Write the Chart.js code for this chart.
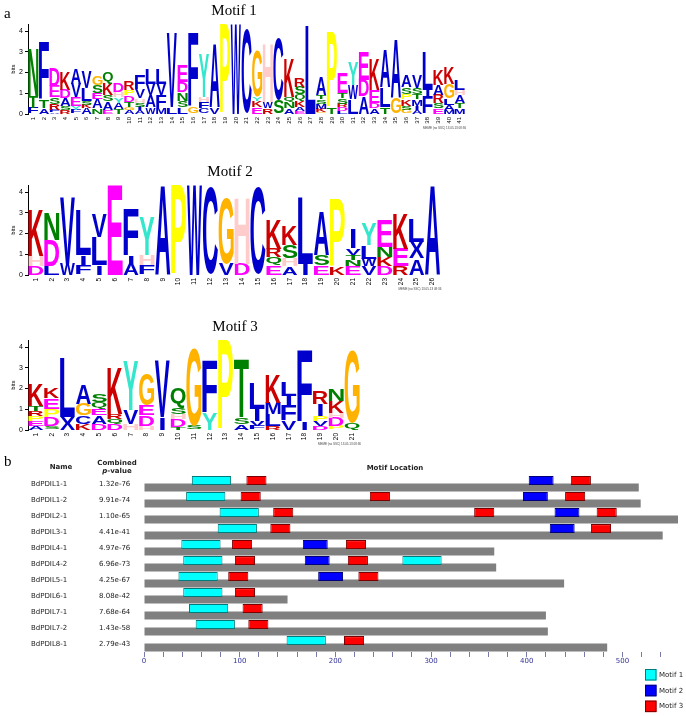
<!DOCTYPE html>
<html>
<head>
<meta charset="utf-8">
<script src="https://cdn.jsdelivr.net/npm/chart.js@4.4.1/dist/chart.umd.min.js"></script>
<style>
body { margin: 0; background: #fff; }
#fig { position: relative; width: 686px; height: 716px; overflow: hidden; background: #fff; }
#fig canvas { position: absolute; }
.panel { position: absolute; font: 15px "Liberation Serif", serif; color: #000; }
</style>
</head>
<body>
<div id="fig">
  <canvas id="logo1" width="470" height="130" style="left:0;top:0"></canvas>
  <canvas id="logo2" width="460" height="130" style="left:0;top:161px"></canvas>
  <canvas id="logo3" width="470" height="130" style="left:0;top:316px"></canvas>
  <canvas id="sites" width="686" height="266" style="left:0;top:450px"></canvas>
  <div class="panel" style="left:4px;top:5px">a</div>
  <div class="panel" style="left:4px;top:453px">b</div>
</div>
<script>
// letters of each logo column, bottom to top, and their heights in bits
const motif1Letters = ["FTN", "ATF", "AFRSED", "RSADK", "FYEVA", "AKSLV", "NAESG", "EASKQ", "TAYHD", "AGTDPR",
  "AISHVF", "WAVL", "MFVL", "LV", "LSNDE", "GF", "CFHY", "VA", "P", "W", "C", "EKYG", "RWH", "SC", "ANQK",
  "EAKQSR", "L", "GKMSTA", "TP", "LDRSTE", "LWY", "ADE", "ADEK", "TLA", "GA", "GSKPSA", "AIMTSV", "FIL",
  "ESRAK", "MALGK", "MTAHL"];
const motif1Heights = [[0.3, 0.55, 2.3], [0.27, 0.4, 2.73], [0.1, 0.1, 0.3, 0.3, 0.55, 0.85], [0.2, 0.2, 0.35, 0.4, 0.85],
  [0.2, 0.2, 0.4, 0.65, 0.72], [0.3, 0.15, 0.2, 0.6, 0.8], [0.27, 0.43, 0.3, 0.38, 0.44], [0.2, 0.4, 0.3, 0.55, 0.55],
  [0.25, 0.3, 0.25, 0.25, 0.4], [0.2, 0.15, 0.25, 0.3, 0.27, 0.45], [0.2, 0.15, 0.2, 0.2, 0.45, 0.7],
  [0.35, 0.55, 0.55, 0.75], [0.3, 0.6, 0.56, 0.72], [0.35, 3.55], [0.35, 0.3, 0.4, 0.5, 0.8], [0.35, 3.55],
  [0.27, 0.3, 0.25, 2.1], [0.35, 3.05], [4.32], [4.32], [4.1], [0.35, 0.3, 0.2, 2.2], [0.27, 0.33, 2.8], [0.68, 3.0],
  [0.27, 0.32, 0.24, 1.85], [0.15, 0.2, 0.3, 0.32, 0.35, 0.45], [4.3], [0.1, 0.15, 0.25, 0.2, 0.2, 0.9], [0.35, 3.6],
  [0.15, 0.2, 0.15, 0.25, 0.25, 1.0], [0.7, 0.7, 1.1], [0.85, 0.8, 1.35], [0.27, 0.25, 0.64, 1.5], [0.35, 0.95, 1.8],
  [0.75, 2.8], [0.2, 0.2, 0.3, 0.27, 0.34, 0.55], [0.2, 0.2, 0.3, 0.25, 0.3, 0.6], [0.85, 0.3, 1.85],
  [0.27, 0.25, 0.4, 0.48, 0.72], [0.2, 0.25, 0.3, 0.72, 0.8], [0.27, 0.25, 0.4, 0.25, 0.5]];

const motif2Letters = ["DHK", "LDN", "WV", "FIL", "ILV", "E", "AIF", "FHY", "A", "P", "W", "C", "VG", "DH", "C",
  "EQRK", "AHSK", "IL", "ESA", "KP", "ENTVI", "VWLY", "DKNE", "REK", "AXL", "A"];
const motif2Heights = [[0.42, 0.5, 2.25], [0.42, 1.25, 1.3], [0.55, 3.2], [0.45, 0.5, 2.15], [0.47, 1.35, 1.13], [4.32],
  [0.55, 0.4, 2.25], [0.47, 0.48, 1.85], [4.32], [4.32], [4.32], [4.24], [0.55, 3.2], [0.55, 3.2], [4.24],
  [0.47, 0.4, 0.4, 1.45], [0.42, 0.37, 0.64, 0.96], [0.55, 3.2], [0.47, 0.48, 2.15], [0.42, 3.26],
  [0.42, 0.3, 0.24, 0.32, 0.96], [0.42, 0.37, 0.64, 1.05], [0.42, 0.45, 0.48, 1.3], [0.42, 0.85, 1.7],
  [0.8, 0.8, 1.12], [4.32]];

const motif3Letters = ["AEPRTK", "SDPEK", "XL", "KCGA", "DAEQS", "DQRK", "HVY", "HDEG", "IV", "TDHSQ", "SG", "YF",
  "P", "AST", "FVIL", "RLMK", "VFIL", "IF", "DVPIR", "PDHKN", "QG"];
const motif3Heights = [[0.2, 0.24, 0.24, 0.24, 0.24, 1.05], [0.17, 0.45, 0.4, 0.5, 0.48], [0.62, 2.82],
  [0.3, 0.4, 0.56, 0.96], [0.3, 0.4, 0.32, 0.32, 0.4], [0.3, 0.24, 0.24, 2.25], [0.3, 0.65, 2.32],
  [0.2, 0.5, 0.48, 1.52], [0.61, 2.74], [0.16, 0.37, 0.24, 0.32, 0.97], [0.2, 3.72], [0.85, 2.5], [4.32],
  [0.29, 0.32, 2.82], [0.2, 0.25, 0.56, 1.2], [0.2, 0.56, 0.56, 1.37], [0.45, 0.72, 0.48, 0.65], [0.37, 3.47],
  [0.2, 0.24, 0.24, 0.56, 0.64], [0.2, 0.4, 0.24, 0.56, 0.56], [0.35, 3.5]];

// motif location panel
const proteins = ["BdPDIL1-1", "BdPDIL1-2", "BdPDIL2-1", "BdPDIL3-1", "BdPDIL4-1", "BdPDIL4-2", "BdPDIL5-1",
  "BdPDIL6-1", "BdPDIL7-1", "BdPDIL7-2", "BdPDIL8-1"];
const pValues = ["1.32e-76", "9.91e-74", "1.10e-65", "4.41e-41", "4.97e-76", "6.96e-73", "4.25e-67", "8.08e-42",
  "7.68e-64", "1.43e-58", "2.79e-43"];
const seqLengths = [517, 519, 558, 542, 366, 368, 439, 150, 420, 422, 484];
const motif1Starts = [[50], [44], [79], [77], [39], [41, 270], [36], [41], [47], [54], [149]];
const motif2Starts = [[402], [396], [429], [424], [166], [168], [182], [], [], [], []];
const motif3Starts = [[107, 446], [101, 236, 440], [135, 345, 473], [132, 467], [92, 211], [95, 213], [88, 224],
  [95], [103], [109], [209]];
const motifLengths = [41, 26, 21];
const motifNames = ["Motif 1", "Motif 2", "Motif 3"];

const aaColors = {
  A: "#0000cc", C: "#0000cc", F: "#0000cc", I: "#0000cc", L: "#0000cc", M: "#0000cc", V: "#0000cc", W: "#0000cc", X: "#0000cc",
  N: "#008000", Q: "#008000", S: "#008000", T: "#008000",
  D: "#ff00ff", E: "#ff00ff", K: "#cc0000", R: "#cc0000",
  H: "#ffcccc", G: "#ffb300", P: "#ffff00", Y: "#33e6cc"
};
const memeNote = "MEME (no SSC) 13.05.13 08:36";

Chart.defaults.font.family = '"Liberation Sans", Arial, sans-serif';

const glyphCache = {};
function glyphBox(ctx, ch) {
  if (!glyphCache[ch]) {
    ctx.save();
    ctx.font = 'bold 100px "Liberation Sans"';
    const m = ctx.measureText(ch);
    glyphCache[ch] = { l: m.actualBoundingBoxLeft, r: m.actualBoundingBoxRight,
      a: m.actualBoundingBoxAscent, d: m.actualBoundingBoxDescent };
    ctx.restore();
  }
  return glyphCache[ch];
}

// stretch one letter into the rectangle of its bar (I stays a narrow stroke)
function drawGlyph(ctx, ch, x, y, w, h, color) {
  const g = glyphBox(ctx, ch);
  if (ch === "I") {
    x += w * 0.34;
    w *= 0.32;
  }
  ctx.save();
  ctx.translate(x, y);
  ctx.scale(w / (g.l + g.r), h / (g.a + g.d));
  ctx.font = 'bold 100px "Liberation Sans"';
  ctx.fillStyle = color;
  ctx.textAlign = "left";
  ctx.textBaseline = "alphabetic";
  ctx.fillText(ch, g.l, g.a);
  ctx.restore();
}

function logoPlugin(letters, title, titleX) {
  return {
    id: "logoLetters",
    afterDatasetsDraw(chart) {
      const ctx = chart.ctx;
      chart.data.datasets.forEach((ds, k) => {
        chart.getDatasetMeta(k).data.forEach((bar, i) => {
          const ch = letters[i][k];
          if (!ch) return;
          const p = bar.getProps(["x", "y", "base", "width"], true);
          const h = p.base - p.y;
          if (h < 0.4) return;
          drawGlyph(ctx, ch, p.x - p.width / 2, p.y, p.width, h, aaColors[ch]);
        });
      });
    },
    afterDraw(chart) {
      const ctx = chart.ctx;
      const area = chart.chartArea;
      ctx.save();
      ctx.fillStyle = "#000";
      ctx.font = '15px "Liberation Serif", serif';
      ctx.textAlign = "center";
      ctx.textBaseline = "middle";
      ctx.fillText(title, titleX, 11);
      ctx.font = '3px "Liberation Sans"';
      ctx.fillStyle = "#444";
      ctx.textAlign = "right";
      ctx.fillText(memeNote, area.right + 1, area.bottom + 14.5);
      ctx.restore();
    }
  };
}

function makeLogo(id, title, titleX, letters, heights, padRight, labelSize) {
  const depth = Math.max(...letters.map(s => s.length));
  const datasets = [];
  for (let k = 0; k < depth; k++) {
    datasets.push({
      data: heights.map(h => h[k] || 0),
      backgroundColor: "rgba(0,0,0,0)",
      borderWidth: 0,
      barPercentage: 0.95,
      categoryPercentage: 1
    });
  }
  return new Chart(document.getElementById(id), {
    type: "bar",
    data: { labels: letters.map((s, i) => String(i + 1)), datasets: datasets },
    options: {
      responsive: false,
      animation: false,
      layout: { padding: { top: 24.4, right: padRight, bottom: 2, left: 0 } },
      plugins: { legend: { display: false }, tooltip: { enabled: false } },
      scales: {
        x: {
          stacked: true,
          afterFit(s) { s.height = 14; },
          grid: { display: false, drawTicks: false },
          border: { display: false },
          ticks: { autoSkip: false, minRotation: 90, maxRotation: 90, padding: 3, color: "#000",
            font: { size: labelSize } }
        },
        y: {
          stacked: true,
          min: 0,
          max: 4.32,
          afterFit(s) { s.width = 28; },
          ticks: { stepSize: 1, includeBounds: false, padding: 2, color: "#000", font: { size: 7 } },
          grid: { drawOnChartArea: false, tickLength: 3, color: "#000" },
          border: { color: "#000" },
          title: { display: true, text: "bits", color: "#000", font: { size: 6 }, padding: { top: 9.4, bottom: 0 } }
        }
      }
    },
    plugins: [logoPlugin(letters, title, titleX)]
  });
}

makeLogo("logo1", "Motif 1", 234, motif1Letters, motif1Heights, 1.25, 6);
makeLogo("logo2", "Motif 2", 230, motif2Letters, motif2Heights, 19.6, 6.5);
makeLogo("logo3", "Motif 3", 235, motif3Letters, motif3Heights, 110, 6.5);

// ---- motif location chart ----
const motifFill = ["#00ffff", "#0000ff", "#ff0000"];
const motifEdge = ["#007a7a", "#00007a", "#7a0000"];
const siteDatasets = [];
[motif1Starts, motif2Starts, motif3Starts].forEach((starts, m) => {
  const pts = [];
  starts.forEach((row, r) => row.forEach(s => pts.push({ y: proteins[r], x: [s, s + motifLengths[m]] })));
  siteDatasets.push({
    label: motifNames[m],
    data: pts,
    stack: "motif",
    backgroundColor: motifFill[m],
    borderColor: motifEdge[m],
    borderWidth: 1,
    borderSkipped: false,
    barPercentage: 1.32,
    categoryPercentage: 0.85
  });
});
siteDatasets.push({
  label: "sequence",
  data: seqLengths.map((len, r) => ({ y: proteins[r], x: [0, len] })),
  stack: "seq",
  backgroundColor: "#808080",
  borderWidth: 0,
  barPercentage: 1.18,
  categoryPercentage: 0.85
});

const sitesText = {
  id: "sitesText",
  afterDraw(chart) {
    const ctx = chart.ctx;
    const yScale = chart.scales.y;
    ctx.save();
    ctx.fillStyle = "#222";
    ctx.textBaseline = "middle";
    ctx.textAlign = "center";
    ctx.font = 'bold 7px "DejaVu Sans"';
    ctx.fillText("Name", 61, 16.7);
    ctx.fillText("Combined", 117, 12.7);
    ctx.fillText("Motif Location", 395, 18);
    ctx.font = 'bold italic 7px "DejaVu Sans"';
    const pw = ctx.measureText("p").width;
    ctx.font = 'bold 7px "DejaVu Sans"';
    const rw = ctx.measureText("-value").width;
    ctx.textAlign = "left";
    const px = 117 - (pw + rw) / 2;
    ctx.font = 'bold italic 7px "DejaVu Sans"';
    ctx.fillText("p", px, 21);
    ctx.font = 'bold 7px "DejaVu Sans"';
    ctx.fillText("-value", px + pw, 21);

    ctx.font = '7px "DejaVu Sans"';
    proteins.forEach((name, r) => {
      const y = yScale.getPixelForValue(r);
      ctx.fillText(name, 31, y);
      ctx.fillText(pValues[r], 99, y);
    });

    // legend
    for (let m = 0; m < 3; m++) {
      const ds = chart.data.datasets[m];
      const ly = 219 + m * 15.8;
      ctx.fillStyle = ds.backgroundColor;
      ctx.fillRect(645, ly, 11.5, 11.5);
      ctx.strokeStyle = ds.borderColor;
      ctx.lineWidth = 1;
      ctx.strokeRect(645.5, ly + 0.5, 10.5, 10.5);
      ctx.fillStyle = "#222";
      ctx.fillText(ds.label, 659, ly + 6);
    }
    ctx.restore();
  }
};

new Chart(document.getElementById("sites"), {
  type: "bar",
  data: { labels: proteins, datasets: siteDatasets },
  options: {
    indexAxis: "y",
    responsive: false,
    animation: false,
    layout: { padding: { left: 144, right: 8, top: 26, bottom: 50 } },
    plugins: { legend: { display: false }, tooltip: { enabled: false } },
    scales: {
      x: {
        min: 0,
        max: 558,
        stacked: false,
        afterFit(s) { s.height = 14; },
        ticks: {
          stepSize: 20, includeBounds: false, autoSkip: false, maxRotation: 0, padding: 0,
          color: "#333399", font: { size: 7, family: '"DejaVu Sans"' },
          callback: v => (v % 100 === 0 ? v : "")
        },
        grid: { drawOnChartArea: false, tickLength: 5, color: "#7a7aa8" },
        border: { display: false }
      },
      y: { display: false }
    }
  },
  plugins: [sitesText]
});
</script>
</body>
</html>
